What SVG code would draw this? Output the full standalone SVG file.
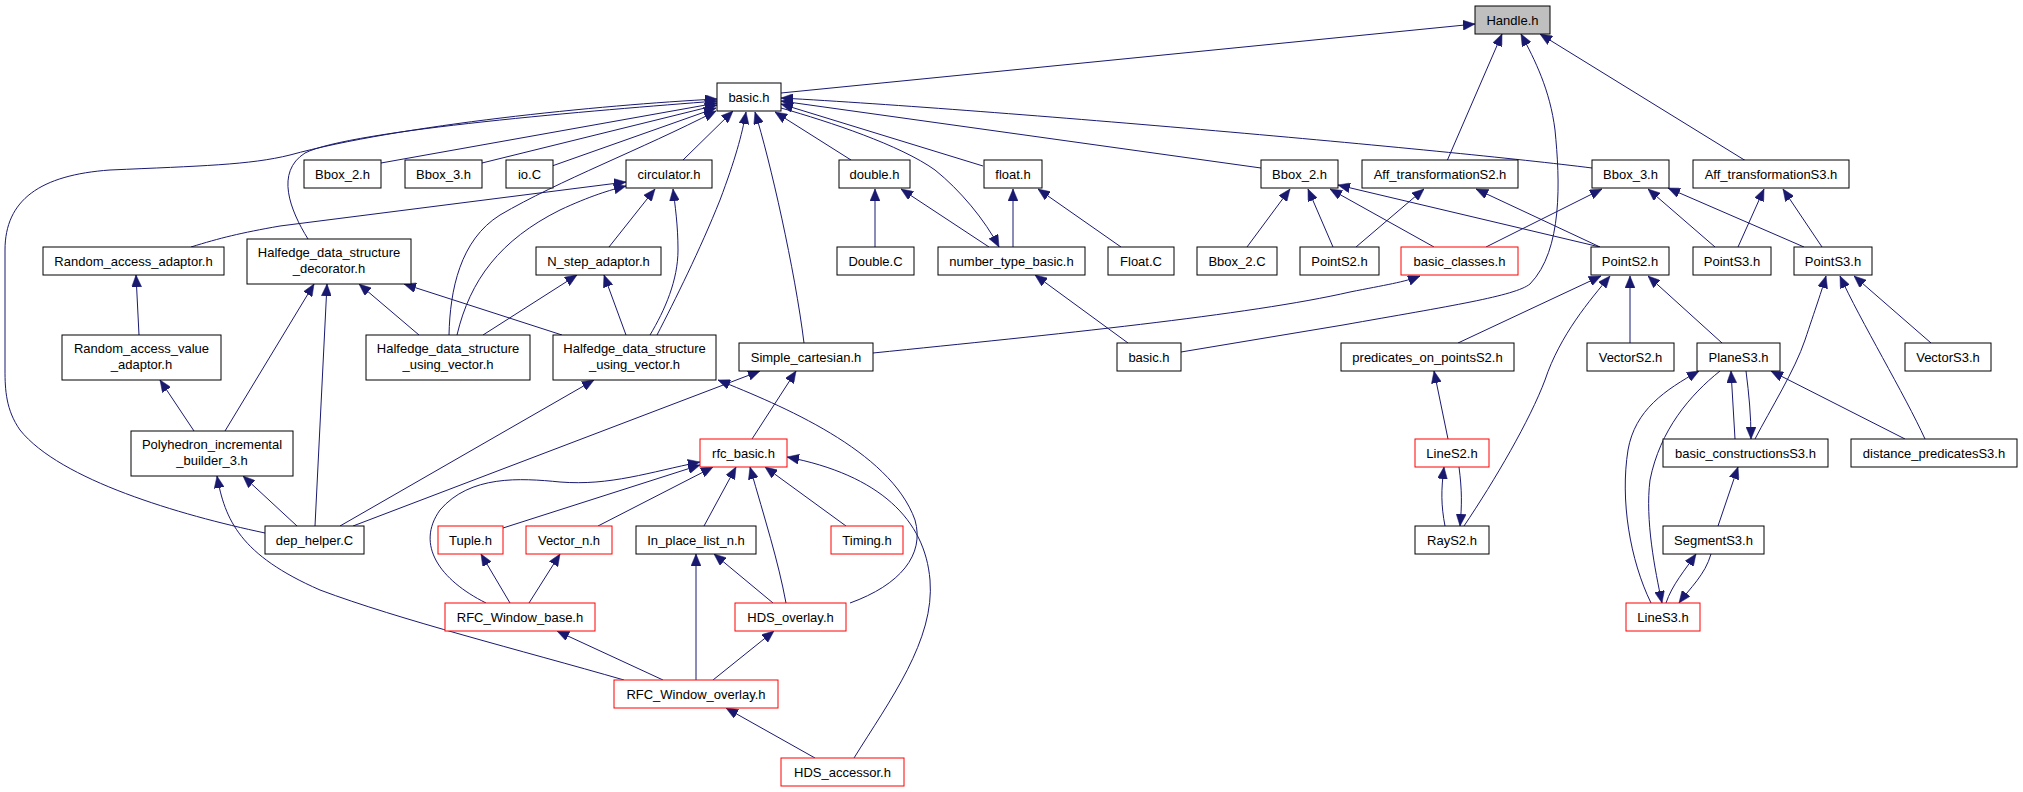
<svg xmlns="http://www.w3.org/2000/svg" width="2023" height="792" viewBox="0 0 2023 792">
<style>
.n rect{fill:#fff;stroke:#000;stroke-width:1}
.n.r rect{stroke:#ff0000}
.n.g rect{fill:#bfbfbf}
.n text{font-family:"Liberation Sans",Arial,sans-serif;font-size:13px;text-anchor:middle;fill:#000}
.e{fill:none;stroke:#191970;stroke-width:1;marker-end:url(#a)}
</style>
<defs>
<marker id="a" markerUnits="userSpaceOnUse" markerWidth="12" markerHeight="10" viewBox="0 0 12 10" refX="12" refY="5" orient="auto">
<path d="M0,0 L12,5 L0,10 z" fill="#191970" stroke="#191970" stroke-width="0.5"/>
</marker>
</defs>
<rect width="2023" height="792" fill="#fff"/>
<g id="edges">
<path class="e" d="M781,93 L1475,24"/>
<path class="e" d="M1447,161 L1502,34"/>
<path class="e" d="M1181,352 L1343,325 C1450,306 1515,296 1530,284 C1563,250 1560,180 1555,130 C1550,90 1535,60 1521,34"/>
<path class="e" d="M1746,161 L1540,34"/>
<path class="e" d="M381,163 L717,103"/>
<path class="e" d="M482,163 L717,105"/>
<path class="e" d="M552,166 L716,108"/>
<path class="e" d="M683,160 L733,111"/>
<path class="e" d="M308,239 C290,210 275,172 305,153 C350,130 600,110 717,101"/>
<path class="e" d="M265,533 C180,515 60,480 20,430 C6,410 5,390 5,370 L5,250 C5,200 40,175 110,170 C200,166 250,165 290,155 C400,125 600,105 717,99"/>
<path class="e" d="M449,335 C450,290 460,240 500,215 C560,180 640,150 716,111"/>
<path class="e" d="M657,335 C675,300 700,250 720,200 C735,160 742,135 746,112"/>
<path class="e" d="M804,343 C795,270 770,160 755,112"/>
<path class="e" d="M851,160 L775,112"/>
<path class="e" d="M983,166 L781,104"/>
<path class="e" d="M781,108 C830,122 900,145 935,170 C960,190 985,220 999,247"/>
<path class="e" d="M1261,168 L781,101"/>
<path class="e" d="M1592,168 C1450,150 1000,110 781,98"/>
<path class="e" d="M191,247 C220,238 240,233 280,226 L626,182"/>
<path class="e" d="M609,247 L655,189"/>
<path class="e" d="M457,335 C470,280 500,240 560,210 C590,196 610,190 626,186"/>
<path class="e" d="M650,335 C665,310 678,280 678,250 C678,225 675,205 673,189"/>
<path class="e" d="M139,335 L136,275"/>
<path class="e" d="M225,431 L314,284"/>
<path class="e" d="M315,526 L327,284"/>
<path class="e" d="M419,335 L359,284"/>
<path class="e" d="M562,335 L404,284"/>
<path class="e" d="M483,335 L577,275"/>
<path class="e" d="M626,335 L604,275"/>
<path class="e" d="M194,431 L160,380"/>
<path class="e" d="M297,526 L243,476"/>
<path class="e" d="M624,680 C520,650 400,620 320,590 C240,555 225,520 217,476"/>
<path class="e" d="M340,526 L594,380"/>
<path class="e" d="M850,603 C900,585 925,555 915,520 C890,450 780,405 718,380"/>
<path class="e" d="M353,526 L760,371"/>
<path class="e" d="M752,439 L796,371"/>
<path class="e" d="M503,528 L700,465"/>
<path class="e" d="M598,526 L713,467"/>
<path class="e" d="M486,603 C440,580 415,545 440,510 C470,475 520,478 560,482 C610,486 650,472 700,462"/>
<path class="e" d="M704,526 L736,467"/>
<path class="e" d="M786,603 C778,560 765,520 750,467"/>
<path class="e" d="M846,526 L765,467"/>
<path class="e" d="M854,758 C890,700 935,640 930,580 C925,520 880,475 787,457"/>
<path class="e" d="M773,603 L714,554"/>
<path class="e" d="M696,680 L696,554"/>
<path class="e" d="M510,603 L481,554"/>
<path class="e" d="M529,603 L560,554"/>
<path class="e" d="M663,680 L557,631"/>
<path class="e" d="M713,680 L774,631"/>
<path class="e" d="M815,758 L726,708"/>
<path class="e" d="M989,247 L901,189"/>
<path class="e" d="M1013,247 L1013,189"/>
<path class="e" d="M1121,247 L1038,189"/>
<path class="e" d="M875,247 L875,189"/>
<path class="e" d="M1128,343 L1035,275"/>
<path class="e" d="M1247,247 L1290,189"/>
<path class="e" d="M1333,247 L1308,189"/>
<path class="e" d="M1434,247 L1330,189"/>
<path class="e" d="M1600,247 L1338,185"/>
<path class="e" d="M1356,247 L1424,189"/>
<path class="e" d="M1600,247 L1476,189"/>
<path class="e" d="M1486,247 L1602,189"/>
<path class="e" d="M1715,247 L1648,189"/>
<path class="e" d="M1804,247 L1668,188"/>
<path class="e" d="M1738,247 L1764,189"/>
<path class="e" d="M1822,247 L1783,189"/>
<path class="e" d="M873,353 C1050,335 1250,315 1350,292 C1385,285 1405,282 1420,276"/>
<path class="e" d="M1458,343 L1601,276"/>
<path class="e" d="M1464,526 C1495,480 1530,420 1545,380 C1560,335 1590,300 1610,276"/>
<path class="e" d="M1630,343 L1630,276"/>
<path class="e" d="M1722,343 L1648,276"/>
<path class="e" d="M1755,439 C1770,410 1795,370 1805,340 C1815,310 1822,290 1826,276"/>
<path class="e" d="M1925,439 C1905,395 1860,320 1840,276"/>
<path class="e" d="M1931,343 L1854,276"/>
<path class="e" d="M1735,439 L1731,371"/>
<path class="e" d="M1746,371 C1749,395 1751,415 1751,439"/>
<path class="e" d="M1905,439 L1771,371"/>
<path class="e" d="M1651,603 C1630,560 1620,500 1628,450 C1635,410 1665,390 1699,371"/>
<path class="e" d="M1720,371 C1690,395 1660,430 1650,480 C1645,520 1655,570 1662,603"/>
<path class="e" d="M1718,526 L1738,467"/>
<path class="e" d="M1666,603 C1672,585 1685,570 1696,554"/>
<path class="e" d="M1711,554 C1705,575 1690,588 1679,603"/>
<path class="e" d="M1445,526 C1441,505 1441,490 1444,467"/>
<path class="e" d="M1459,467 C1462,490 1462,505 1460,526"/>
<path class="e" d="M1448,439 L1434,371"/>
</g>
<g id="Handle" class="n g"><rect x="1475" y="6" width="75" height="28"/><text x="1512.5" y="24.5">Handle.h</text></g>
<g id="basic_main" class="n"><rect x="717" y="83" width="64" height="28"/><text x="749" y="101.5">basic.h</text></g>
<g id="Bbox2a" class="n"><rect x="304" y="160" width="77" height="28"/><text x="342.5" y="178.5">Bbox_2.h</text></g>
<g id="Bbox3a" class="n"><rect x="405" y="160" width="77" height="28"/><text x="443.5" y="178.5">Bbox_3.h</text></g>
<g id="ioC" class="n"><rect x="506" y="160" width="47" height="28"/><text x="529.5" y="178.5">io.C</text></g>
<g id="circulator" class="n"><rect x="626" y="160" width="86" height="28"/><text x="669" y="178.5">circulator.h</text></g>
<g id="double_h" class="n"><rect x="839" y="160" width="71" height="28"/><text x="874.5" y="178.5">double.h</text></g>
<g id="float_h" class="n"><rect x="984" y="160" width="58" height="28"/><text x="1013" y="178.5">float.h</text></g>
<g id="Bbox2b" class="n"><rect x="1261" y="160" width="77" height="28"/><text x="1299.5" y="178.5">Bbox_2.h</text></g>
<g id="AffS2" class="n"><rect x="1362" y="160" width="156" height="28"/><text x="1440" y="178.5">Aff_transformationS2.h</text></g>
<g id="Bbox3b" class="n"><rect x="1592" y="160" width="77" height="28"/><text x="1630.5" y="178.5">Bbox_3.h</text></g>
<g id="AffS3" class="n"><rect x="1693" y="160" width="156" height="28"/><text x="1771" y="178.5">Aff_transformationS3.h</text></g>
<g id="RAA" class="n"><rect x="43" y="247" width="181" height="28"/><text x="133.5" y="265.5">Random_access_adaptor.h</text></g>
<g id="Decorator" class="n"><rect x="247" y="239" width="164" height="45"/><text x="329" y="256.5">Halfedge_data_structure</text><text x="329" y="273">_decorator.h</text></g>
<g id="N_step" class="n"><rect x="536" y="247" width="125" height="28"/><text x="598.5" y="265.5">N_step_adaptor.h</text></g>
<g id="DoubleC" class="n"><rect x="837" y="247" width="77" height="28"/><text x="875.5" y="265.5">Double.C</text></g>
<g id="ntb" class="n"><rect x="938" y="247" width="147" height="28"/><text x="1011.5" y="265.5">number_type_basic.h</text></g>
<g id="FloatC" class="n"><rect x="1108" y="247" width="66" height="28"/><text x="1141" y="265.5">Float.C</text></g>
<g id="Bbox2C" class="n"><rect x="1197" y="247" width="80" height="28"/><text x="1237" y="265.5">Bbox_2.C</text></g>
<g id="PointS2a" class="n"><rect x="1300" y="247" width="79" height="28"/><text x="1339.5" y="265.5">PointS2.h</text></g>
<g id="basic_classes" class="n r"><rect x="1401" y="247" width="117" height="28"/><text x="1459.5" y="265.5">basic_classes.h</text></g>
<g id="PointS2b" class="n"><rect x="1591" y="247" width="78" height="28"/><text x="1630" y="265.5">PointS2.h</text></g>
<g id="PointS3a" class="n"><rect x="1693" y="247" width="78" height="28"/><text x="1732" y="265.5">PointS3.h</text></g>
<g id="PointS3b" class="n"><rect x="1794" y="247" width="78" height="28"/><text x="1833" y="265.5">PointS3.h</text></g>
<g id="RAVA" class="n"><rect x="62" y="335" width="159" height="45"/><text x="141.5" y="352.5">Random_access_value</text><text x="141.5" y="369">_adaptor.h</text></g>
<g id="HDSuv1" class="n"><rect x="366" y="335" width="164" height="45"/><text x="448" y="352.5">Halfedge_data_structure</text><text x="448" y="369">_using_vector.h</text></g>
<g id="HDSuv2" class="n"><rect x="553" y="335" width="163" height="45"/><text x="634.5" y="352.5">Halfedge_data_structure</text><text x="634.5" y="369">_using_vector.h</text></g>
<g id="SimpleCart" class="n"><rect x="739" y="343" width="134" height="28"/><text x="806" y="361.5">Simple_cartesian.h</text></g>
<g id="basic2" class="n"><rect x="1117" y="343" width="64" height="28"/><text x="1149" y="361.5">basic.h</text></g>
<g id="predicates" class="n"><rect x="1341" y="343" width="173" height="28"/><text x="1427.5" y="361.5">predicates_on_pointsS2.h</text></g>
<g id="VectorS2" class="n"><rect x="1587" y="343" width="87" height="28"/><text x="1630.5" y="361.5">VectorS2.h</text></g>
<g id="PlaneS3" class="n"><rect x="1697" y="343" width="83" height="28"/><text x="1738.5" y="361.5">PlaneS3.h</text></g>
<g id="VectorS3" class="n"><rect x="1905" y="343" width="86" height="28"/><text x="1948" y="361.5">VectorS3.h</text></g>
<g id="Polyhedron" class="n"><rect x="131" y="431" width="162" height="45"/><text x="212" y="448.5">Polyhedron_incremental</text><text x="212" y="465">_builder_3.h</text></g>
<g id="rfc_basic" class="n r"><rect x="700" y="439" width="87" height="28"/><text x="743.5" y="457.5">rfc_basic.h</text></g>
<g id="LineS2" class="n r"><rect x="1415" y="439" width="74" height="28"/><text x="1452" y="457.5">LineS2.h</text></g>
<g id="basicCons" class="n"><rect x="1663" y="439" width="165" height="28"/><text x="1745.5" y="457.5">basic_constructionsS3.h</text></g>
<g id="distPred" class="n"><rect x="1851" y="439" width="166" height="28"/><text x="1934" y="457.5">distance_predicatesS3.h</text></g>
<g id="dep_helper" class="n"><rect x="265" y="526" width="99" height="28"/><text x="314.5" y="544.5">dep_helper.C</text></g>
<g id="Tuple" class="n r"><rect x="438" y="526" width="65" height="28"/><text x="470.5" y="544.5">Tuple.h</text></g>
<g id="Vector_n" class="n r"><rect x="526" y="526" width="86" height="28"/><text x="569" y="544.5">Vector_n.h</text></g>
<g id="InPlace" class="n"><rect x="636" y="526" width="120" height="28"/><text x="696" y="544.5">In_place_list_n.h</text></g>
<g id="Timing" class="n r"><rect x="831" y="526" width="72" height="28"/><text x="867" y="544.5">Timing.h</text></g>
<g id="RayS2" class="n"><rect x="1415" y="526" width="74" height="28"/><text x="1452" y="544.5">RayS2.h</text></g>
<g id="SegmentS3" class="n"><rect x="1663" y="526" width="101" height="28"/><text x="1713.5" y="544.5">SegmentS3.h</text></g>
<g id="RFCbase" class="n r"><rect x="445" y="603" width="150" height="28"/><text x="520" y="621.5">RFC_Window_base.h</text></g>
<g id="HDS_overlay" class="n r"><rect x="735" y="603" width="111" height="28"/><text x="790.5" y="621.5">HDS_overlay.h</text></g>
<g id="LineS3" class="n r"><rect x="1626" y="603" width="74" height="28"/><text x="1663" y="621.5">LineS3.h</text></g>
<g id="RFCoverlay" class="n r"><rect x="614" y="680" width="164" height="28"/><text x="696" y="698.5">RFC_Window_overlay.h</text></g>
<g id="HDS_accessor" class="n r"><rect x="781" y="758" width="123" height="28"/><text x="842.5" y="776.5">HDS_accessor.h</text></g>
</svg>
